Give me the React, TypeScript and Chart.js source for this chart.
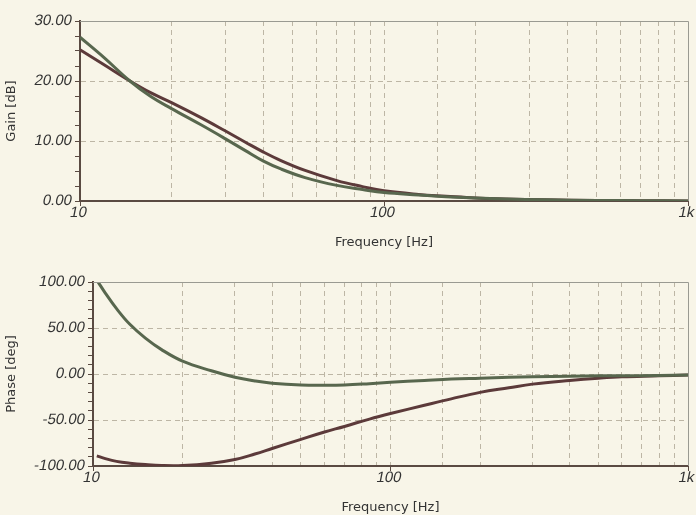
import React, { useEffect, useRef } from "react";
import { Chart, registerables } from "chart.js";

Chart.register(...registerables);

// ---- data ----
const gainFreq = [10, 12, 14.6, 17, 20, 25, 30, 35, 40, 46, 55, 70, 85, 100, 130, 160, 200, 250, 340, 500, 700, 1000];
const gainGreen = [27.3, 23.9, 20.0, 17.5, 15.4, 12.7, 10.4, 8.4, 6.7, 5.3, 3.9, 2.6, 1.9, 1.4, 1.0, 0.7, 0.5, 0.35, 0.2, 0.1, 0.05, 0.0];
const gainBrown = [25.2, 22.7, 20.0, 18.1, 16.4, 13.9, 11.7, 9.8, 8.2, 6.7, 5.1, 3.4, 2.4, 1.7, 1.1, 0.8, 0.5, 0.35, 0.2, 0.1, 0.05, 0.0];

const phaseFreq = [10.3, 11, 12, 13.3, 15, 17, 20, 25, 30, 35, 40, 50, 60, 70, 85, 100, 130, 160, 200, 250, 300, 400, 500, 600, 800, 1000];
const phaseGreen = [102, 88, 71, 54, 39, 26.5, 14, 3.5, -3.5, -7.5, -10, -12, -12.3, -12, -10.5, -9, -7, -5.5, -4.5, -3.5, -3, -2.5, -2, -2, -1.5, -1];
const phaseBrown = [-89, -92, -95, -97, -98.5, -99.5, -99.5, -97, -93, -87, -81, -71, -63, -57, -49, -43, -34, -27, -20, -15, -11, -7, -4.5, -3, -2, -1];

const xTickLabels: Record<number, string> = { 10: "10", 100: "100", 1000: "1k" };
const gainRange = [0, 30];
const phaseRange = [-100, 100];

const BG = "#f8f5e8";
const GREEN = "#58674e";
const BROWN = "#5c3a3a";
const GRID = "rgba(150,140,120,0.6)";
const AXIS = "#5a4a42";
const TEXT = "#333333";
const TICK_FONT = "15px 'Liberation Sans', Arial, sans-serif";
const TITLE_FONT = "'DejaVu Sans', sans-serif";

// frame on top/right + slanted (italic-looking) tick labels taken from the scales
const frame = {
  id: "frame",
  afterDraw(chart: any, _args: any, opts: any) {
    const { ctx, chartArea: a } = chart;
    ctx.save();
    ctx.strokeStyle = "#9a9a92";
    ctx.lineWidth = 1;
    ctx.beginPath();
    ctx.moveTo(a.left, a.top + 0.5);
    ctx.lineTo(a.right + 0.5, a.top + 0.5);
    ctx.lineTo(a.right + 0.5, a.bottom);
    ctx.stroke();
    ctx.restore();

    const major = opts.major as number;
    const xs = chart.scales.x;
    const ys = chart.scales.y;
    ctx.save();
    ctx.fillStyle = TEXT;
    ctx.font = TICK_FONT;
    const draw = (txt: string, x: number, y: number) => {
      ctx.save();
      ctx.translate(x, y);
      ctx.transform(1, 0, -0.2, 1, 0, 0);
      ctx.fillText(txt, 0, 0);
      ctx.restore();
    };
    ctx.textAlign = "right";
    ctx.textBaseline = "middle";
    for (const t of ys.ticks) {
      const v = t.value;
      if (Math.abs(v % major) > 1e-9) continue;
      draw(v.toFixed(2), ys.right - 8, ys.getPixelForValue(v));
    }
    ctx.textAlign = "center";
    ctx.textBaseline = "top";
    for (const t of xs.ticks) {
      const lbl = xTickLabels[t.value];
      if (!lbl) continue;
      draw(lbl, xs.getPixelForValue(t.value), xs.top + 4);
    }
    ctx.restore();
  },
};

function makeConfig(
  freq: number[],
  a: number[],
  b: number[],
  range: number[],
  step: number,
  major: number,
  yTitle: string,
  yWidth: number,
  topPad: number
): any {
  const isDecade = (v: number) => v === 10 || v === 100 || v === 1000;
  return {
    type: "line",
    data: {
      datasets: [
        {
          data: freq.map((f, i) => ({ x: f, y: a[i] })),
          borderColor: GREEN,
          borderWidth: 3,
          pointRadius: 0,
          tension: 0.4,
        },
        {
          data: freq.map((f, i) => ({ x: f, y: b[i] })),
          borderColor: BROWN,
          borderWidth: 3,
          pointRadius: 0,
          tension: 0.4,
        },
      ],
    },
    options: {
      animation: false,
      responsive: false,
      layout: { padding: { top: topPad, right: 8, left: 0, bottom: 0 } },
      plugins: { legend: { display: false }, tooltip: { enabled: false }, frame: { major } },
      scales: {
        x: {
          type: "logarithmic",
          min: 10,
          max: 1000,
          afterFit: (s: any) => {
            s.height = 49;
          },
          grid: {
            color: (c: any) => {
              const v = c.tick ? c.tick.value : 0;
              return v === 10 || v === 1000 ? "transparent" : GRID;
            },
            tickColor: (c: any) => (c.tick && isDecade(c.tick.value) ? AXIS : "transparent"),
            tickLength: 5,
            lineWidth: 1,
          },
          border: { display: true, color: AXIS, width: 2, dash: [5, 4] },
          ticks: {
            display: false,
            autoSkip: false,
            maxRotation: 0,
          },
          title: {
            display: true,
            text: "Frequency [Hz]",
            color: TEXT,
            font: { family: TITLE_FONT, size: 13 },
            padding: { top: 0, bottom: 0 },
          },
        },
        y: {
          min: range[0],
          max: range[1],
          afterFit: (s: any) => {
            s.width = yWidth;
          },
          grid: {
            color: (c: any) => {
              const v = c.tick ? c.tick.value : 0;
              if (v === range[0] || v === range[1]) return "transparent";
              return Math.abs(v % major) < 1e-9 ? GRID : "transparent";
            },
            tickColor: AXIS,
            tickLength: 5,
            lineWidth: 1,
          },
          border: { display: true, color: AXIS, width: 2, dash: [5, 4] },
          ticks: {
            display: false,
            stepSize: step,
            autoSkip: false,
          },
          title: {
            display: true,
            text: yTitle,
            color: TEXT,
            font: { family: TITLE_FONT, size: 13 },
            padding: { top: 4, bottom: 0 },
          },
        },
      },
    },
    plugins: [frame],
  };
}

export default function App() {
  const ref1 = useRef<HTMLCanvasElement>(null);
  const ref2 = useRef<HTMLCanvasElement>(null);

  useEffect(() => {
    const c1 = new Chart(
      ref1.current as HTMLCanvasElement,
      makeConfig(gainFreq, gainGreen, gainBrown, gainRange, 2.5, 10, "Gain [dB]", 80, 21)
    );
    const c2 = new Chart(
      ref2.current as HTMLCanvasElement,
      makeConfig(phaseFreq, phaseGreen, phaseBrown, phaseRange, 10, 50, "Phase [deg]", 93, 32)
    );
    return () => {
      c1.destroy();
      c2.destroy();
    };
  }, []);

  return (
    <div style={{ position: "absolute", left: 0, top: 0, width: 696, height: 515, background: BG, overflow: "hidden" }}>
      <canvas ref={ref1} width={696} height={250} style={{ position: "absolute", left: 0, top: 0 }} />
      <canvas ref={ref2} width={696} height={265} style={{ position: "absolute", left: 0, top: 250 }} />
    </div>
  );
}
